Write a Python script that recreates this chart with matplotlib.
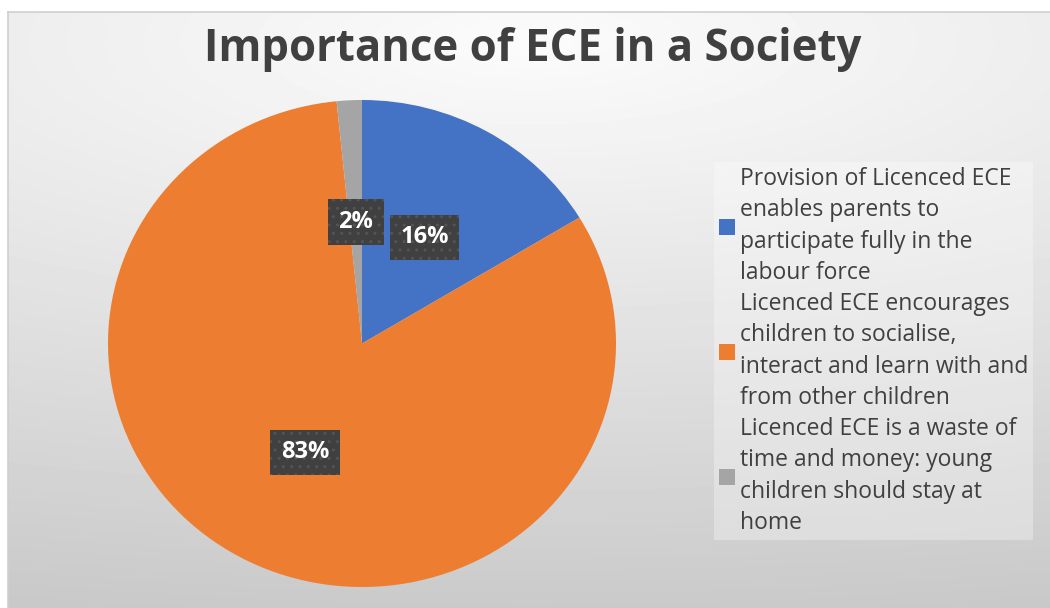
import matplotlib.pyplot as plt
import numpy as np
from matplotlib.patches import Patch

categories = [
    "Provision of Licenced ECE\nenables parents to\nparticipate fully in the\nlabour force",
    "Licenced ECE encourages\nchildren to socialise,\ninteract and learn with and\nfrom other children",
    "Licenced ECE is a waste of\ntime and money: young\nchildren should stay at\nhome",
]
shares = [16.4, 82.3, 1.6]
pct_labels = ["16%", "83%", "2%"]
colors = ["#4472C4", "#ED7D31", "#A5A5A5"]

W, H = 1050, 608
fig = plt.figure(figsize=(W / 100, H / 100), dpi=100, facecolor="white")

# soft grey gradient behind the chart (light at top centre, darker at bottom)
bg = fig.add_axes([8 / W, 0, 1 - 8 / W, (H - 12) / H])
yy, xx = np.mgrid[0:H - 12, 0:W - 8]
d = np.hypot((xx - 522) / 2000, (yy - 30) / 600)
shade = np.clip(0.985 - 0.205 * d, 0.76, 1.0)
bg.imshow(shade, cmap="gray", vmin=0, vmax=1, aspect="auto",
          extent=[0, 1, 0, 1], origin="upper", interpolation="bilinear")
bg.set_xticks([])
bg.set_yticks([])
for side in ("right", "bottom"):
    bg.spines[side].set_visible(False)
for side in ("top", "left"):
    bg.spines[side].set_color("#cfcfcf")
    bg.spines[side].set_linewidth(1.2)

# pie axes sized to the drawn ellipse (x 108-616, y 100-587 px)
ax = fig.add_axes([108 / W, (H - 587) / H, 508 / W, 487 / H])
wedges, _, autotexts = ax.pie(
    shares, colors=colors, startangle=90, counterclock=False,
    autopct="%.0f%%", pctdistance=0.5,
    wedgeprops=dict(linewidth=0),
)
ax.set_aspect("auto")
ax.set_xlim(-1, 1)
ax.set_ylim(-1, 1)
for t, s in zip(autotexts, pct_labels):
    t.set_text(s)
    t.set_color("white")
    t.set_fontsize(17)
    t.set_fontweight("bold")
    t.set_family("Open Sans")
    t.set_bbox(dict(boxstyle="square,pad=0.45", facecolor="#404040",
                    edgecolor="#545454", hatch="..", linewidth=0))

fig.text(533 / W, 1 - 49 / H, "Importance of ECE in a Society",
         ha="center", va="center", fontsize=31.5, fontweight="bold",
         color="#404040", family="Open Sans")

handles = [Patch(facecolor=c, edgecolor="none") for c in colors]
leg = fig.legend(handles, categories, loc="upper left",
                 bbox_to_anchor=(714 / W, 1 - 162 / H),
                 prop=dict(family="Open Sans", size=16.5),
                 frameon=True, facecolor="white", framealpha=0.3,
                 edgecolor="none", fancybox=False,
                 handlelength=0.7, handleheight=0.7, handletextpad=0.25,
                 labelspacing=0.28, borderpad=0.2, borderaxespad=0)
for t in leg.get_texts():
    t.set_color("#404040")
    t.set_linespacing(1.42)

fig.savefig("out.png", dpi=100)
